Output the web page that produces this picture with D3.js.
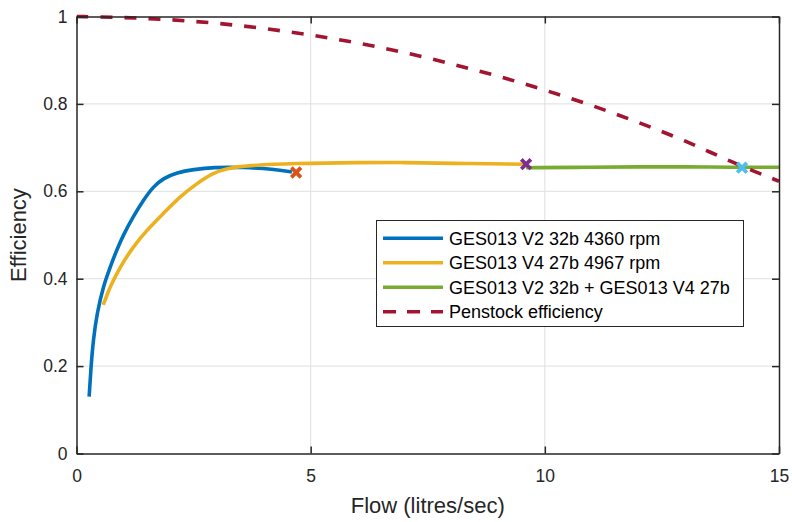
<!DOCTYPE html>
<html>
<head>
<meta charset="utf-8">
<script src="https://cdn.jsdelivr.net/npm/d3@7"></script>
<style>
  html, body { margin: 0; padding: 0; background: #fff; }
  svg { display: block; font-family: "Liberation Sans", Arial, sans-serif; }
  .tick text { fill: #262626; }
</style>
</head>
<body>
<svg id="chart" width="792" height="522"></svg>
<script>
"use strict";
// Data
const xTicks = [0, 5, 10, 15];
const yTicks = [0, 0.2, 0.4, 0.6, 0.8, 1];

const v2Flow = [0.27, 0.31, 0.36, 0.44, 0.57, 0.72, 0.86, 1.0, 1.21, 1.43, 1.64, 1.86, 2.14, 2.5, 2.92, 3.56, 4.2, 4.6];
const v2Eff = [0.13, 0.199, 0.262, 0.322, 0.382, 0.427, 0.466, 0.5, 0.542, 0.58, 0.611, 0.63, 0.643, 0.65, 0.655, 0.655, 0.651, 0.644];

const v4Flow = [0.57, 0.65, 0.72, 0.93, 1.21, 1.5, 1.86, 2.21, 2.57, 2.92, 3.2, 3.64, 4.63, 6.06, 7.0, 8.0, 9.4, 9.6];
const v4Eff = [0.34, 0.362, 0.382, 0.427, 0.473, 0.511, 0.55, 0.588, 0.618, 0.642, 0.652, 0.659, 0.664, 0.666, 0.666, 0.664, 0.662, 0.662];

const comboFlow = [9.6, 11, 12, 13, 14, 15];
const comboEff = [0.654, 0.655, 0.656, 0.656, 0.655, 0.655];

const penFlow = [0, 1, 2, 3, 4, 5, 6, 7, 8, 9, 10, 11, 12, 13, 14, 15];
const penEff = [1.0, 0.998, 0.993, 0.985, 0.973, 0.958, 0.94, 0.918, 0.892, 0.864, 0.832, 0.797, 0.758, 0.716, 0.666, 0.623];

const markerFlow = [4.69, 9.6, 14.21];
const markerEff = [0.643, 0.662, 0.654];
const markerColors = ["#D95319", "#7E2F8E", "#4DBEEE"];

const seriesNames = [
  "GES013 V2 32b 4360 rpm",
  "GES013 V4 27b 4967 rpm",
  "GES013 V2 32b + GES013 V4 27b",
  "Penstock efficiency",
];
const seriesColors = ["#0072BD", "#EDB120", "#77AC30", "#A2142F"];

(function () {
  const svg = d3.select("#chart");
  const plot = { left: 76.5, top: 16.5, right: 779, bottom: 453.5 };

  const x = d3.scaleLinear().domain([0, 15]).range([plot.left, plot.right]);
  const y = d3.scaleLinear().domain([0, 1]).range([plot.bottom, plot.top]);

  const zip = (xs, ys) => xs.map((d, i) => [d, ys[i]]);
  const series = [
    zip(v2Flow, v2Eff),
    zip(v4Flow, v4Eff),
    zip(comboFlow, comboEff),
    zip(penFlow, penEff),
  ];

  // Grid
  const grid = svg.append("g").attr("stroke", "#dfdfdf").attr("stroke-width", 1);
  grid
    .selectAll(".gx")
    .data(xTicks.slice(1, -1))
    .join("line")
    .attr("x1", (d) => x(d))
    .attr("x2", (d) => x(d))
    .attr("y1", plot.top)
    .attr("y2", plot.bottom);
  grid
    .selectAll(".gy")
    .data(yTicks.slice(1, -1))
    .join("line")
    .attr("x1", plot.left)
    .attr("x2", plot.right)
    .attr("y1", (d) => y(d))
    .attr("y2", (d) => y(d));

  // Curves
  const line = d3
    .line()
    .x((d) => x(d[0]))
    .y((d) => y(d[1]))
    .curve(d3.curveBasis);
  svg
    .append("clipPath")
    .attr("id", "plotClip")
    .append("rect")
    .attr("x", plot.left)
    .attr("y", plot.top - 3)
    .attr("width", plot.right - plot.left)
    .attr("height", plot.bottom - plot.top + 3);
  const gLines = svg.append("g").attr("clip-path", "url(#plotClip)");
  gLines
    .selectAll("path")
    .data(series)
    .join("path")
    .attr("d", line)
    .attr("fill", "none")
    .attr("stroke", (d, i) => seriesColors[i])
    .attr("stroke-width", 3.6)
    .attr("stroke-linejoin", "round")
    .attr("stroke-dasharray", (d, i) => (i === 3 ? "12,12" : null));

  // X markers
  const mk = 4.8;
  svg
    .append("g")
    .selectAll("path")
    .data(markerFlow)
    .join("path")
    .attr("transform", (d, i) => `translate(${x(d)},${y(markerEff[i])})`)
    .attr("d", `M${-mk},${-mk}L${mk},${mk}M${-mk},${mk}L${mk},${-mk}`)
    .attr("stroke", (d, i) => markerColors[i])
    .attr("stroke-width", 3.8)
    .attr("fill", "none");

  // Axes (box with inward ticks on all sides)
  const fmt = d3.format("~g");
  const styleAxis = (g) => {
    g.select(".domain").attr("stroke", "#262626").attr("stroke-width", 1.5).attr("fill", "none");
    g.selectAll(".tick line").attr("stroke", "#262626").attr("stroke-width", 1.5);
    g.selectAll(".tick text").attr("font-size", 17.5).attr("font-family", null);
  };
  svg
    .append("g")
    .attr("transform", `translate(0,${plot.bottom})`)
    .call(d3.axisBottom(x).tickValues(xTicks).tickFormat(fmt).tickSizeInner(-7).tickSizeOuter(0).tickPadding(16))
    .call(styleAxis);
  svg
    .append("g")
    .attr("transform", `translate(0,${plot.top})`)
    .call(d3.axisTop(x).tickValues(xTicks).tickFormat("").tickSizeInner(-7).tickSizeOuter(0))
    .call(styleAxis);
  svg
    .append("g")
    .attr("transform", `translate(${plot.left},0)`)
    .call(d3.axisLeft(y).tickValues(yTicks).tickFormat(fmt).tickSizeInner(-7).tickSizeOuter(0).tickPadding(9))
    .call(styleAxis);
  svg
    .append("g")
    .attr("transform", `translate(${plot.right},0)`)
    .call(d3.axisRight(y).tickValues(yTicks).tickFormat("").tickSizeInner(-7).tickSizeOuter(0))
    .call(styleAxis);

  // Axis titles
  svg
    .append("text")
    .attr("x", (plot.left + plot.right) / 2)
    .attr("y", 513)
    .attr("text-anchor", "middle")
    .attr("font-size", 22)
    .attr("fill", "#262626")
    .text("Flow (litres/sec)");
  svg
    .append("text")
    .attr("transform", `translate(26,${(plot.top + plot.bottom) / 2}) rotate(-90)`)
    .attr("text-anchor", "middle")
    .attr("font-size", 22)
    .attr("fill", "#262626")
    .text("Efficiency");

  // Legend
  const legend = svg.append("g");
  legend
    .append("rect")
    .attr("x", 376.5)
    .attr("y", 220.5)
    .attr("width", 367)
    .attr("height", 106)
    .attr("fill", "#fff")
    .attr("stroke", "#262626")
    .attr("stroke-width", 1);
  const item = legend
    .selectAll(".item")
    .data(seriesNames)
    .join("g")
    .attr("class", "item")
    .attr("transform", (d, i) => `translate(383,${238.3 + i * 24.5})`);
  item
    .append("line")
    .attr("x1", 0)
    .attr("x2", 60)
    .attr("stroke", (d, i) => seriesColors[i])
    .attr("stroke-width", 3.6)
    .attr("stroke-dasharray", (d, i) => (i === 3 ? "13,11" : null));
  item
    .append("text")
    .attr("x", 66)
    .attr("dy", "0.35em")
    .attr("font-size", 18)
    .attr("fill", "#000")
    .text((d) => d);
})();
</script>
</body>
</html>
